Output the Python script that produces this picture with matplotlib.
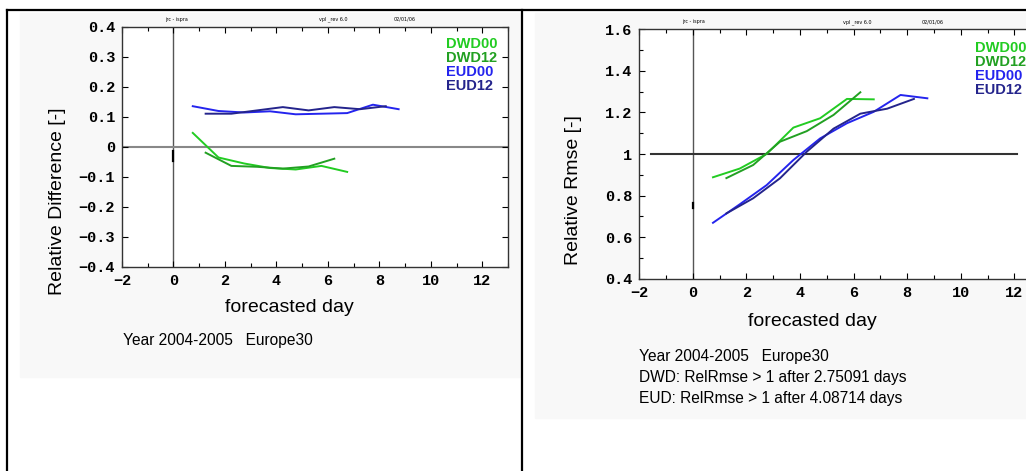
import matplotlib
matplotlib.use("Agg")
import matplotlib.pyplot as plt
from matplotlib.patches import Rectangle
from matplotlib.lines import Line2D
from matplotlib.ticker import MultipleLocator

W, H = 1026, 471

# forecast day positions (00 and 12 runs)
days_00 = [0.75, 1.75, 2.75, 3.75, 4.75, 5.75, 6.75]
days_12 = [1.25, 2.25, 3.25, 4.25, 5.25, 6.25]
days_00_eud = [0.75, 1.75, 2.75, 3.75, 4.75, 5.75, 6.75, 7.75, 8.75]
days_12_eud = [1.25, 2.25, 3.25, 4.25, 5.25, 6.25, 7.25, 8.25]

# relative difference
dwd00_diff = [0.047, -0.035, -0.055, -0.070, -0.075, -0.063, -0.083]
dwd12_diff = [-0.019, -0.063, -0.066, -0.072, -0.065, -0.039]
eud00_diff = [0.136, 0.120, 0.115, 0.119, 0.109, 0.111, 0.113, 0.141, 0.126]
eud12_diff = [0.111, 0.111, 0.122, 0.133, 0.122, 0.133, 0.126, 0.136]

# relative rmse
dwd00_rmse = [0.888, 0.930, 1.000, 1.127, 1.172, 1.265, 1.263]
dwd12_rmse = [0.884, 0.947, 1.059, 1.110, 1.188, 1.297]
eud00_rmse = [0.669, 0.758, 0.850, 0.971, 1.075, 1.148, 1.203, 1.284, 1.268]
eud12_rmse = [0.714, 0.787, 0.883, 1.011, 1.122, 1.194, 1.218, 1.265]

names = ["DWD00", "DWD12", "EUD00", "EUD12"]
colors = ["#22cc22", "#22a022", "#2424ee", "#24248c"]

info_left = ["Year 2004-2005   Europe30"]
info_right = ["Year 2004-2005   Europe30",
              "DWD: RelRmse > 1 after 2.75091 days",
              "EUD: RelRmse > 1 after 4.08714 days"]

mono = {"family": "Liberation Mono", "weight": "bold", "size": 11}


def fx(px):
    return px / W


def fy(py):
    return 1 - py / H


fig = plt.figure(figsize=(W / 100, H / 100), dpi=100)
fig.patch.set_facecolor("white")

# panel backgrounds and frame
fig.add_artist(Rectangle((fx(20), fy(377)), fx(500), 364 / H, transform=fig.transFigure,
                         color="#f8f8f8", zorder=0))
fig.add_artist(Rectangle((fx(535), fy(418)), fx(491), 405 / H, transform=fig.transFigure,
                         color="#f8f8f8", zorder=0))
for xs, ys in [([7, 7], [9.5, 471]), ([7, 1026], [9.5, 9.5]), ([521.5, 521.5], [9.5, 471])]:
    fig.add_artist(Line2D([fx(v) for v in xs], [fy(v) for v in ys], color="black", lw=1.6,
                          transform=fig.transFigure))


def style(ax, ymajor, yminor=None):
    ax.set_xlim(-2, 13)
    ax.xaxis.set_major_locator(MultipleLocator(2))
    ax.xaxis.set_minor_locator(MultipleLocator(1))
    ax.yaxis.set_major_locator(MultipleLocator(ymajor))
    if yminor:
        ax.yaxis.set_minor_locator(MultipleLocator(yminor))
    ax.tick_params(which="both", direction="in", top=True, right=True, width=0.8)
    ax.tick_params(which="major", length=4, pad=5)
    ax.tick_params(which="minor", length=3)
    for sp in ax.spines.values():
        sp.set_linewidth(1.0)
        sp.set_color("#333333")
    ax.axvline(0, color="#555555", lw=1.0, zorder=1)


# left panel
ax1 = fig.add_axes([fx(122), fy(267), fx(386), 240 / H])
ax1.set_ylim(-0.4, 0.4)
style(ax1, 0.1)
ax1.yaxis.set_major_formatter(lambda v, p: "0" if abs(v) < 1e-9 else f"{v:.1f}".replace("-", "\u2212"))
ax1.xaxis.set_major_formatter(lambda v, p: f"{v:.0f}".replace("-", "\u2212"))
ax1.axhline(0, color="#888888", lw=1.5, zorder=1)
ax1.plot([0, 0], [-0.012, -0.045], color="black", lw=1.6)
for xs, ys, c in zip([days_00, days_12, days_00_eud, days_12_eud],
                     [dwd00_diff, dwd12_diff, eud00_diff, eud12_diff], colors):
    ax1.plot(xs, ys, color=c, lw=1.4)
for i, (n, c) in enumerate(zip(names, colors)):
    fig.text(fx(446), fy(44 + 14 * i), n, color=c, fontsize=10.5, fontweight="bold",
             family="Liberation Sans", va="center")

# right panel
ax2 = fig.add_axes([fx(639.3), fy(278.7), fx(401.9), 249.4 / H])
ax2.set_ylim(0.4, 1.6)
style(ax2, 0.2, 0.1)
ax2.yaxis.set_major_formatter(lambda v, p: "1" if abs(v - 1) < 1e-9 else f"{v:.1f}")
ax2.xaxis.set_major_formatter(lambda v, p: f"{v:.0f}".replace("-", "\u2212"))
ax2.plot([-1.55, 12.1], [1, 1], color="#333333", lw=1.5, zorder=1)
ax2.plot([0, 0], [0.74, 0.765], color="black", lw=1.6)
for xs, ys, c in zip([days_00, days_12, days_00_eud, days_12_eud],
                     [dwd00_rmse, dwd12_rmse, eud00_rmse, eud12_rmse], colors):
    ax2.plot(xs, ys, color=c, lw=1.4)
for i, (n, c) in enumerate(zip(names, colors)):
    fig.text(fx(975), fy(48 + 14 * i), n, color=c, fontsize=10.5, fontweight="bold",
             family="Liberation Sans", va="center")

for ax in (ax1, ax2):
    for lab in ax.get_xticklabels() + ax.get_yticklabels():
        lab.set_fontproperties(mono)

# axis titles and notes
fig.text(fx(58), fy(201), "Relative Difference [-]", rotation=90, fontsize=14,
         family="Liberation Sans", ha="center", va="center")
fig.text(fx(289), fy(307), "forecasted day", fontsize=14, family="Liberation Sans",
         ha="center", va="center")
fig.text(fx(573), fy(190), "Relative Rmse [-]", rotation=90, fontsize=14,
         family="Liberation Sans", ha="center", va="center")
fig.text(fx(812), fy(322), "forecasted day", fontsize=14, family="Liberation Sans",
         ha="center", va="center")
for i, t in enumerate(info_left):
    fig.text(fx(123), fy(340 + 20.5 * i), t, fontsize=11.2, family="Liberation Sans", va="center")
for i, t in enumerate(info_right):
    fig.text(fx(639), fy(357 + 20.5 * i), t, fontsize=11.2, family="Liberation Sans", va="center")

# tiny header stamps
fig.text(fx(176), fy(19), "jrc - ispra", fontsize=3.5, ha="center", va="center")
fig.text(fx(333), fy(19), "vpl _rev 6.0", fontsize=3.5, ha="center", va="center")
fig.text(fx(405), fy(19), "02/01/06", fontsize=3.5, ha="center", va="center")
fig.text(fx(693), fy(22), "jrc - ispra", fontsize=3.5, ha="center", va="center")
fig.text(fx(857), fy(22), "vpl _rev 6.0", fontsize=3.5, ha="center", va="center")
fig.text(fx(933), fy(22), "02/01/06", fontsize=3.5, ha="center", va="center")

fig.savefig("out.png", dpi=100)
